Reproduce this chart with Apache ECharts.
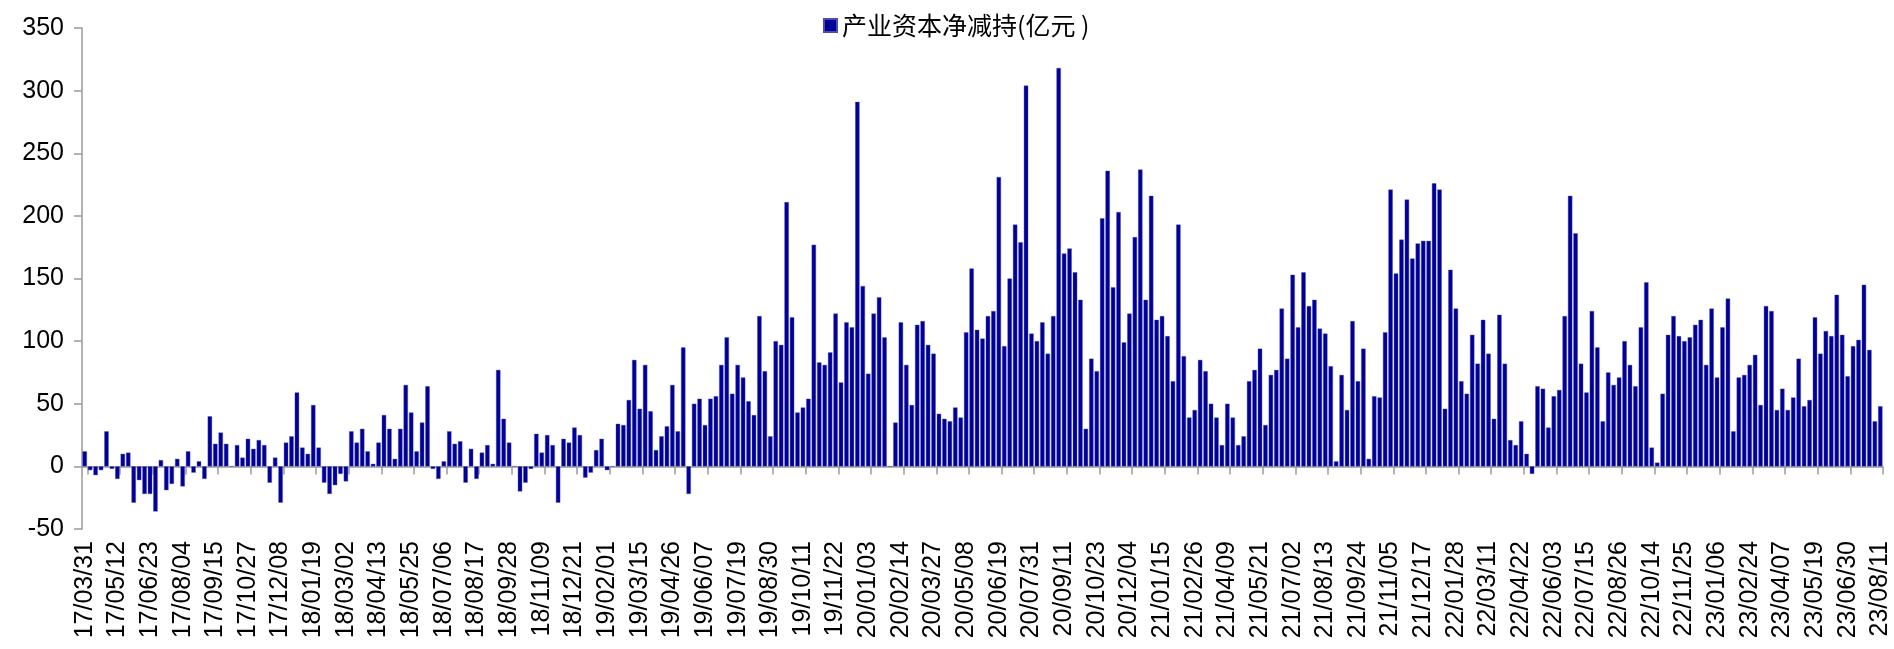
<!DOCTYPE html>
<html>
<head>
<meta charset="utf-8">
<script src="https://cdn.jsdelivr.net/npm/echarts@6/dist/echarts.min.js"></script>
<style>
html,body{margin:0;padding:0;background:#fff;}
#chart{width:1894px;height:649px;}
</style>
</head>
<body>
<div id="chart"></div>
<script>
// Weekly categories: every Friday from 17/03/31 to 23/08/11, holiday weeks removed
var firstWeek = '2017-03-31';
var lastWeek = '2023-08-11';
var skippedWeeks = ['2022-10-07', '2023-01-27'];

// 产业资本净减持 (亿元)
var netReduction = [
  12, -3, -7, -3, 28, -2, -10, 10, 11, -29,
  -11, -22, -22, -36, 5, -19, -14, 6, -16, 12,
  -5, 4, -10, 40, 18, 27, 18, 0, 17, 7,
  22, 14, 21, 17, -13, 7, -29, 19, 24, 59,
  15, 10, 49, 15, -13, -22, -15, -6, -12, 28,
  19, 30, 12, 2, 19, 41, 30, 6, 30, 65,
  43, 12, 35, 64, -2, -10, 4, 28, 18, 20,
  -13, 14, -10, 11, 17, 2, 77, 38, 19, 0,
  -20, -13, -2, 26, 11, 25, 17, -29, 22, 19,
  31, 25, -9, -5, 13, 22, -3, 0, 34, 33,
  53, 85, 46, 81, 44, 13, 24, 32, 65, 28,
  95, -22, 50, 54, 33, 54, 56, 81, 103, 58,
  81, 71, 52, 41, 120, 76, 24, 100, 97, 211,
  119, 43, 47, 54, 177, 83, 81, 91, 122, 67,
  115, 111, 291, 144, 74, 122, 135, 103, 0, 35,
  115, 81, 49, 113, 116, 97, 90, 42, 38, 36,
  47, 39, 107, 158, 109, 102, 120, 124, 231, 96,
  150, 193, 179, 304, 106, 100, 115, 90, 120, 318,
  170, 174, 155, 133, 30, 86, 76, 198, 236, 143,
  203, 99, 122, 183, 237, 133, 216, 117, 120, 104,
  68, 193, 88, 39, 45, 85, 76, 50, 39, 17,
  50, 39, 17, 24, 68, 77, 94, 33, 73, 77,
  126, 86, 153, 111, 155, 128, 133, 110, 106, 80,
  4, 73, 45, 116, 68, 94, 6, 56, 55, 107,
  221, 154, 181, 213, 166, 178, 180, 180, 226, 221,
  46, 157, 126, 68, 58, 105, 82, 117, 90, 38,
  121, 82, 21, 17, 36, 10, -6, 64, 62, 31,
  56, 61, 120, 216, 186, 82, 59, 124, 95, 36,
  75, 65, 71, 100, 81, 64, 111, 147, 15, 3,
  58, 105, 120, 104, 100, 103, 113, 117, 81, 126,
  71, 111, 134, 28, 71, 73, 81, 89, 49, 128,
  124, 45, 62, 45, 55, 86, 48, 53, 119, 90,
  108, 104, 137, 105, 72, 96, 101, 145, 93, 36, 48
];

var yTicks = { min: -50, max: 350, interval: 50 };
var seriesName = '产业资本净减持(亿元 )';

function pad(n){ return (n < 10 ? '0' : '') + n; }
function buildWeeks(){
  var out = [];
  var t = Date.parse(firstWeek + 'T00:00:00Z');
  var end = Date.parse(lastWeek + 'T00:00:00Z');
  while (t <= end) {
    var d = new Date(t);
    var iso = d.getUTCFullYear() + '-' + pad(d.getUTCMonth() + 1) + '-' + pad(d.getUTCDate());
    if (skippedWeeks.indexOf(iso) < 0) {
      out.push(String(d.getUTCFullYear()).slice(2) + '/' + pad(d.getUTCMonth() + 1) + '/' + pad(d.getUTCDate()));
    }
    t += 7 * 86400000;
  }
  return out;
}
var categories = buildWeeks();

var chart = echarts.init(document.getElementById('chart'), null, { renderer: 'canvas' });
var fontFam = '"Liberation Sans", Arial, sans-serif';
chart.setOption({
  animation: false,
  backgroundColor: '#ffffff',
  legend: {
    data: [seriesName],
    left: 818,
    top: 8,
    icon: 'rect',
    itemWidth: 13,
    itemHeight: 13,
    itemGap: 6,
    textStyle: { fontSize: 25, color: '#000', fontFamily: '"Noto Sans CJK SC", sans-serif' }
  },
  grid: { left: 82, right: 11, top: 28, height: 501, containLabel: false },
  xAxis: [
    {
      type: 'category',
      data: categories,
      boundaryGap: true,
      axisLine: { show: true, onZero: true, lineStyle: { color: '#9a9a9a', width: 1.5 } },
      axisTick: {
        show: true, length: 8, inside: false,
        interval: function (idx) { return idx % 6 === 1; },
        lineStyle: { color: '#9a9a9a', width: 1.5 }
      },
      axisLabel: { show: false },
      splitLine: { show: false }
    },
    {
      type: 'category',
      data: categories,
      position: 'bottom',
      boundaryGap: true,
      axisLine: { show: false, onZero: false },
      axisTick: { show: false },
      axisLabel: {
        show: true, interval: 5, rotate: 90, margin: 12,
        fontSize: 25, color: '#000', fontFamily: fontFam
      },
      splitLine: { show: false }
    }
  ],
  yAxis: {
    type: 'value',
    min: yTicks.min, max: yTicks.max, interval: yTicks.interval,
    axisLine: { show: true, lineStyle: { color: '#9a9a9a', width: 1.5 } },
    axisTick: { show: true, length: 8, inside: false, lineStyle: { color: '#9a9a9a', width: 1.5 } },
    axisLabel: { fontSize: 25, color: '#000', margin: 18, fontFamily: fontFam },
    splitLine: { show: false }
  },
  series: [{
    name: seriesName,
    type: 'bar',
    xAxisIndex: 0,
    data: netReduction,
    barCategoryGap: '20%',
    itemStyle: { color: '#000099', borderColor: '#4d4db0', borderWidth: 0.4 }
  }]
});
</script>
</body>
</html>
